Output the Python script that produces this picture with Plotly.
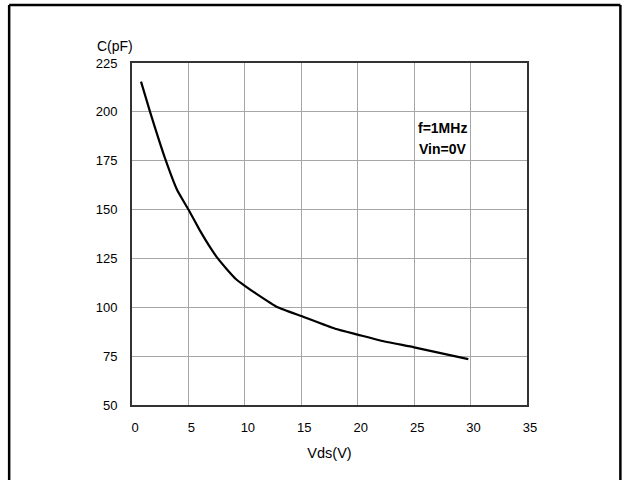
import plotly.graph_objects as go

vds = [0.8, 1.6, 3.0, 4.0, 5.0, 6.0, 7.0, 7.6, 8.4, 9.2, 10.0, 11.0, 12.9, 15.0, 18.0, 20.0, 22.0, 25.0, 29.8]
cap = [215.5, 200.0, 175.0, 160.0, 150.0, 139.5, 130.0, 125.0, 119.5, 114.5, 111.0, 107.0, 100.0, 95.5, 89.0, 86.0, 83.0, 79.5, 73.5]

x_ticks = [0, 5, 10, 15, 20, 25, 30, 35]
y_ticks = [50, 75, 100, 125, 150, 175, 200, 225]

FONT = "Liberation Sans, Arial, sans-serif"

W, H = 623, 480
ML, MR, MT, MB = 132, 95.5, 63, 75
PW, PH = W - ML - MR, H - MT - MB


def px_x(p):
    return (p - ML) / PW


def px_y(p):
    return (H - MB - p) / PH


fig = go.Figure()
fig.add_trace(go.Scatter(x=vds, y=cap, mode="lines",
                         line=dict(color="black", width=2.2, shape="spline", smoothing=0.4),
                         showlegend=False, hoverinfo="skip"))

axis_common = dict(showgrid=True, gridcolor="#a6a6a6", gridwidth=1,
                   showline=True, linecolor="#333333", linewidth=2, mirror=True,
                   zeroline=False, ticks="",
                   tickfont=dict(family=FONT, size=13, color="black"))

fig.update_xaxes(range=[0, 35], tickvals=x_ticks, ticklabelstandoff=9, ticklabelshift=3,
                 title=dict(text="Vds(V)", font=dict(family=FONT, size=14.5, color="black"), standoff=14),
                 **axis_common)
fig.update_yaxes(range=[50, 225], tickvals=y_ticks, ticklabelstandoff=10,
                 **axis_common)

fig.add_annotation(x=px_x(115), y=px_y(46), xref="paper", yref="paper",
                   xanchor="center", yanchor="middle",
                   text="C(pF)", showarrow=False,
                   font=dict(family=FONT, size=14, color="black"))
fig.add_annotation(x=27.5, y=225 - (128 - 63.3) / 48.8 * 25, xref="x", yref="y",
                   xanchor="center", yanchor="middle",
                   text="<b>f=1MHz</b>", showarrow=False,
                   font=dict(family=FONT, size=14, color="black"))
fig.add_annotation(x=27.5, y=225 - (149.3 - 63.3) / 48.8 * 25, xref="x", yref="y",
                   xanchor="center", yanchor="middle",
                   text="<b>Vin=0V</b>", showarrow=False,
                   font=dict(family=FONT, size=14, color="black"))

# outer frame (left, top, right)
lx, rx, ty, by = px_x(9), px_x(621), px_y(5), px_y(482)
for x0, y0, x1, y1 in [(lx, by, lx, ty), (lx, ty, rx, ty), (rx, ty, rx, by)]:
    fig.add_shape(type="line", xref="paper", yref="paper", x0=x0, y0=y0, x1=x1, y1=y1,
                  line=dict(color="black", width=2.5))

fig.update_layout(width=W, height=H, margin=dict(l=ML, r=MR, t=MT, b=MB),
                  paper_bgcolor="white", plot_bgcolor="white",
                  font=dict(family=FONT, color="black"))

fig.write_html("out.html", config={"displayModeBar": False},
               post_script="document.body.style.margin='0';document.body.style.overflow='hidden';")
